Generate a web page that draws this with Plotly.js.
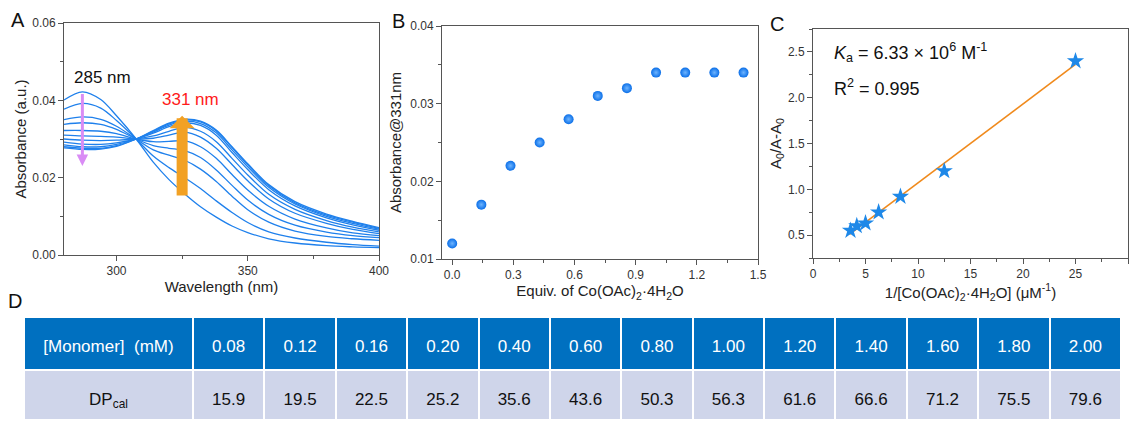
<!DOCTYPE html>
<html>
<head>
<meta charset="utf-8">
<script src="https://cdn.plot.ly/plotly-3.0.1.min.js"></script>
<style>html,body{margin:0;padding:0;background:#fff;}#chart{width:1131px;height:423px;}</style>
</head>
<body>
<div id="chart"></div>
<script>
// ---------- Panel A: UV-vis spectra ----------
const wavelength = [280, 287, 294, 300, 307.5, 314, 320, 326, 332, 338, 344, 350, 358, 368, 380, 390, 400];
const spec0  = [0.0401, 0.0422, 0.0402, 0.0360, 0.0300, 0.0240, 0.0195, 0.0158, 0.0125, 0.0098, 0.0075, 0.0058, 0.0042, 0.0031, 0.0024, 0.0021, 0.0019];
const spec1  = [0.0377, 0.0392, 0.0380, 0.0348, 0.0300, 0.0256, 0.0226, 0.0200, 0.0172, 0.0140, 0.0110, 0.0084, 0.0060, 0.0044, 0.0033, 0.0027, 0.0023];
const spec2  = [0.0350, 0.0357, 0.0351, 0.0333, 0.0300, 0.0272, 0.0258, 0.0245, 0.0222, 0.0190, 0.0152, 0.0117, 0.0085, 0.0062, 0.0048, 0.0042, 0.0038];
const spec3  = [0.0338, 0.0342, 0.0338, 0.0325, 0.0300, 0.0283, 0.0276, 0.0270, 0.0252, 0.0220, 0.0180, 0.0142, 0.0105, 0.0077, 0.0059, 0.0050, 0.0045];
const spec4  = [0.0322, 0.0322, 0.0320, 0.0314, 0.0300, 0.0293, 0.0294, 0.0295, 0.0280, 0.0250, 0.0208, 0.0168, 0.0126, 0.0093, 0.0070, 0.0057, 0.0050];
const spec5  = [0.0310, 0.0308, 0.0307, 0.0305, 0.0300, 0.0302, 0.0310, 0.0318, 0.0305, 0.0276, 0.0234, 0.0192, 0.0145, 0.0108, 0.0082, 0.0066, 0.0055];
const spec6  = [0.0300, 0.0297, 0.0296, 0.0297, 0.0300, 0.0308, 0.0320, 0.0330, 0.0320, 0.0293, 0.0250, 0.0207, 0.0157, 0.0118, 0.0089, 0.0072, 0.0060];
const spec7  = [0.0292, 0.0287, 0.0286, 0.0290, 0.0300, 0.0315, 0.0332, 0.0342, 0.0335, 0.0310, 0.0265, 0.0221, 0.0169, 0.0127, 0.0096, 0.0078, 0.0064];
const spec8  = [0.0285, 0.0280, 0.0280, 0.0286, 0.0300, 0.0318, 0.0336, 0.0346, 0.0340, 0.0316, 0.0272, 0.0228, 0.0175, 0.0132, 0.0100, 0.0082, 0.0067];
const spec9  = [0.0280, 0.0276, 0.0276, 0.0283, 0.0300, 0.0320, 0.0339, 0.0349, 0.0344, 0.0321, 0.0278, 0.0233, 0.0179, 0.0135, 0.0103, 0.0085, 0.0069];
const spec10 = [0.0277, 0.0273, 0.0274, 0.0281, 0.0300, 0.0322, 0.0341, 0.0351, 0.0346, 0.0323, 0.0280, 0.0236, 0.0182, 0.0138, 0.0106, 0.0087, 0.0071];
const spectra = [spec0, spec1, spec2, spec3, spec4, spec5, spec6, spec7, spec8, spec9, spec10];

// ---------- Panel B: titration ----------
const equiv   = [0, 0.143, 0.286, 0.429, 0.571, 0.714, 0.857, 1.0, 1.143, 1.286, 1.429];
const abs331  = [0.012, 0.017, 0.022, 0.025, 0.028, 0.031, 0.032, 0.034, 0.034, 0.034, 0.034];

// ---------- Panel C: Benesi-Hildebrand ----------
const invConc = [3.57, 4.17, 5.0, 6.25, 8.33, 12.5, 25.0];
const a0Ratio = [0.55, 0.60, 0.63, 0.75, 0.92, 1.20, 2.40];

// ---------- Panel D: table ----------
const monomerConc = ["0.08", "0.12", "0.16", "0.20", "0.40", "0.60", "0.80", "1.00", "1.20", "1.40", "1.60", "1.80", "2.00"];
const dpCal = ["15.9", "19.5", "22.5", "25.2", "35.6", "43.6", "50.3", "56.3", "61.6", "66.6", "71.2", "75.5", "79.6"];

const FONT = "Liberation Sans, Arial, sans-serif";
const W = 1131, H = 423;
const px = v => v / W;
const py = v => 1 - v / H;

const traces = [];
spectra.forEach(s => {
  traces.push({type: 'scatter', mode: 'lines', x: wavelength, y: s, xaxis: 'x', yaxis: 'y',
    line: {color: '#1f80ec', width: 1.3, shape: 'spline', smoothing: 0.9}, hoverinfo: 'skip'});
});
traces.push({type: 'scatter', mode: 'markers', x: equiv, y: abs331, xaxis: 'x2', yaxis: 'y2',
  marker: {size: 10, color: '#0b6fe8', gradient: {type: 'radial', color: '#6db4ff'}, line: {width: 0}}});

// least-squares fit for panel C
const n = invConc.length;
const mx = invConc.reduce((a, b) => a + b, 0) / n;
const my = a0Ratio.reduce((a, b) => a + b, 0) / n;
let sxy = 0, sxx = 0;
for (let i = 0; i < n; i++) { sxy += (invConc[i] - mx) * (a0Ratio[i] - my); sxx += (invConc[i] - mx) ** 2; }
const slope = sxy / sxx, icpt = my - slope * mx;
const fitX = [Math.min(...invConc) - 0.1, Math.max(...invConc)];
const fitY = fitX.map(v => icpt + slope * v);
traces.push({type: 'scatter', mode: 'lines', x: fitX, y: fitY, xaxis: 'x3', yaxis: 'y3',
  line: {color: '#f08a1c', width: 1.6}});
traces.push({type: 'scatter', mode: 'markers', x: invConc, y: a0Ratio, xaxis: 'x3', yaxis: 'y3',
  marker: {symbol: 'star', size: 13, color: '#1e88e8', line: {width: 0}}});

// table (an invisible small first line centres the 17px text vertically in each cell)
const cellText = s => '\u00a0<br><span style="font-size:17px">' + s + '</span>';
const headerVals = ["[Monomer]  (mM)"].concat(monomerConc).map(cellText);
const cellVals = [["DP<sub>cal</sub>"]].concat(dpCal.map(v => [v])).map(col => col.map(cellText));
traces.push({type: 'table',
  domain: {x: [px(24), px(1121)], y: [0, 106 / H]},
  columnwidth: [169].concat(monomerConc.map(() => 71.4)),
  header: {values: headerVals, align: 'center', height: 53,
    fill: {color: '#0070c0'}, line: {color: '#ffffff', width: 2},
    font: {family: FONT, size: 12, color: '#ffffff'}},
  cells: {values: cellVals, align: 'center', height: 50,
    fill: {color: '#cfd5ea'}, line: {color: '#ffffff', width: 2},
    font: {family: FONT, size: 12, color: '#111111'}}
});

const axBase = {showgrid: false, zeroline: false, showline: true, mirror: true, linecolor: '#555', linewidth: 1,
  ticks: 'outside', ticklen: 5, tickcolor: '#555', tickfont: {family: FONT, size: 12, color: '#333'}};
function ax(extra) { return Object.assign({}, axBase, extra); }
function label(t, x, y) {
  return {xref: 'paper', yref: 'paper', x: px(x), y: py(y), xanchor: 'center', yanchor: 'middle',
    text: t, showarrow: false, font: {family: FONT, size: 20, color: '#111'}};
}

const layout = {
  width: W, height: H, margin: {l: 0, r: 0, t: 0, b: 0}, showlegend: false,
  paper_bgcolor: '#fff', plot_bgcolor: '#fff', font: {family: FONT, color: '#222'},
  xaxis: ax({domain: [px(64), px(379)], range: [280, 400], tick0: 300, dtick: 50, anchor: 'y',
    minor: {ticks: 'outside', ticklen: 3, tick0: 300, dtick: 25, tickcolor: '#555'},
    title: {text: 'Wavelength (nm)', font: {family: FONT, size: 15, color: '#222'}, standoff: 1}}),
  yaxis: ax({domain: [py(255), py(23)], range: [0, 0.06], dtick: 0.02, tickformat: '.2f', anchor: 'x',
    minor: {ticks: 'outside', ticklen: 3, dtick: 0.01, tickcolor: '#555'},
    title: {text: 'Absorbance (a.u.)', font: {family: FONT, size: 15, color: '#222'}, standoff: 1}}),
  xaxis2: ax({domain: [px(442), px(758)], range: [-0.05, 1.5], tick0: 0, dtick: 0.3, tickformat: '.1f', anchor: 'y2',
    minor: {ticks: 'outside', ticklen: 3, tick0: 0, dtick: 0.15, tickcolor: '#555'},
    title: {text: 'Equiv. of Co(OAc)<sub>2</sub>·4H<sub>2</sub>O', font: {family: FONT, size: 15, color: '#222'}, standoff: 0}}),
  yaxis2: ax({domain: [py(259), py(26)], range: [0.01, 0.04], dtick: 0.01, tickformat: '.2f', anchor: 'x2',
    minor: {ticks: 'outside', ticklen: 3, dtick: 0.005, tickcolor: '#555'},
    title: {text: 'Absorbance@331nm', font: {family: FONT, size: 15, color: '#222'}, standoff: 4}}),
  xaxis3: ax({domain: [px(813), px(1128)], range: [0, 30], tick0: 0, dtick: 5, anchor: 'y3',
    minor: {ticks: 'outside', ticklen: 3, tick0: 0, dtick: 2.5, tickcolor: '#555'},
    title: {text: '1/[Co(OAc)<sub>2</sub>·4H<sub>2</sub>O] (μM<sup>-1</sup>)', font: {family: FONT, size: 15, color: '#222'}, standoff: 0}}),
  yaxis3: ax({domain: [py(258), py(29)], range: [0.25, 2.75], dtick: 0.5, tickformat: '.1f', anchor: 'x3',
    minor: {ticks: 'outside', ticklen: 3, dtick: 0.25, tickcolor: '#555'},
    title: {text: 'A<sub>0</sub>/A-A<sub>0</sub>', font: {family: FONT, size: 15, color: '#222'}, standoff: 2}}),
  annotations: [
    label('A', 18, 20), label('B', 398, 21), label('C', 777, 24), label('D', 15, 301),
    {xref: 'x', yref: 'y', x: 294.5, y: 0.0458, text: '285 nm', showarrow: false, font: {family: FONT, size: 17, color: '#111'}},
    {xref: 'x', yref: 'y', x: 328, y: 0.0401, text: '331 nm', showarrow: false, font: {family: FONT, size: 17, color: '#ff1a1a'}},
    {xref: 'x', yref: 'y', axref: 'x', ayref: 'y', x: 287, y: 0.0230, ax: 287, ay: 0.0420, text: '', showarrow: true,
      arrowhead: 2, arrowwidth: 3, arrowsize: 0.77, arrowcolor: '#d98cf5'},
    {xref: 'x', yref: 'y', axref: 'x', ayref: 'y', x: 325, y: 0.0360, ax: 325, ay: 0.0150, text: '', showarrow: true,
      arrowhead: 1, arrowwidth: 11, arrowsize: 0.38, arrowcolor: '#f2a124'},
    {xref: 'paper', yref: 'paper', x: px(832), y: py(53), xanchor: 'left', yanchor: 'middle', showarrow: false,
      text: '<i>K</i><sub>a</sub> = 6.33 × 10<sup>6</sup> M<sup>-1</sup>', font: {family: FONT, size: 18, color: '#111'}},
    {xref: 'paper', yref: 'paper', x: px(832), y: py(88), xanchor: 'left', yanchor: 'middle', showarrow: false,
      text: 'R<sup>2</sup> = 0.995', font: {family: FONT, size: 18, color: '#111'}}
  ]
};

Plotly.newPlot('chart', traces, layout, {staticPlot: true, displayModeBar: false});
</script>
</body>
</html>
